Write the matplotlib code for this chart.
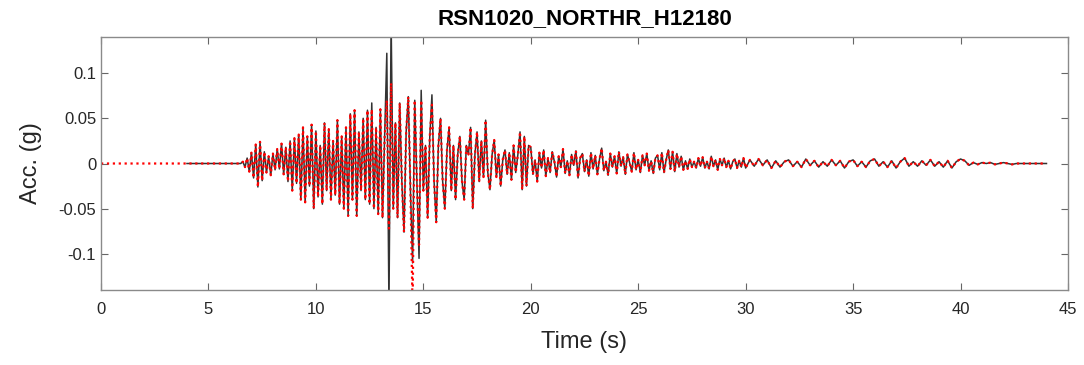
import numpy as np
import matplotlib
matplotlib.use('Agg')
import matplotlib.pyplot as plt

# 记录名称
record_name = "RSN1020_NORTHR_H12180"

# 强震段 (6.5 s 起, 步长 0.1 s), 单位 g
acc_strong = [
    0.0, 0.002, -0.004, 0.006, -0.009, 0.012, -0.016, 0.021, -0.026, 0.024,
    -0.019, 0.013, -0.010, 0.008, -0.013, 0.011, -0.007, 0.016, -0.006, 0.022,
    -0.012, 0.018, -0.020, 0.025, -0.030, 0.028, -0.022, 0.032, -0.040, 0.040,
    -0.043, 0.030, -0.025, 0.043, -0.050, 0.036, -0.037, 0.020, -0.045, 0.045,
    -0.030, 0.038, -0.040, 0.025, -0.035, 0.048, -0.045, 0.030, -0.050, 0.040,
    -0.058, 0.055, -0.040, 0.059, -0.058, 0.035, -0.030, 0.050, -0.040, 0.059,
    -0.045, 0.067, -0.050, 0.040, -0.056, 0.060, -0.060, 0.030, 0.122, -0.160,
    0.160, -0.050, 0.045, -0.060, 0.067, -0.020, -0.076, 0.035, 0.074, -0.030,
    -0.110, 0.070, -0.020, -0.105, 0.081, -0.030, 0.020, -0.060, 0.030, 0.076,
    -0.020, -0.065, 0.020, 0.050, -0.020, -0.050, 0.015, 0.040, -0.030, 0.020,
    -0.040, 0.010, 0.030, -0.020, -0.040, 0.020, 0.010, 0.040, -0.050, 0.010,
    0.035, -0.020, 0.025, -0.015, 0.048, -0.010, -0.029, 0.010, 0.026, -0.015,
    0.010, -0.025, 0.005, 0.015, -0.012, 0.012, -0.018, 0.020, -0.010, 0.010,
    0.035, -0.029, 0.030, -0.025, 0.020,
]

# 中段 (20 s 起, 步长 0.1 s)
acc_mid = [
    0.018, -0.012, 0.004, -0.020, 0.012, -0.005, 0.015, -0.014, 0.006, -0.010,
    0.013, 0.002, -0.015, 0.008, -0.004, 0.016, -0.011, 0.003, -0.013, 0.010,
    -0.002, 0.014, -0.016, 0.006, 0.011, -0.009, 0.004, -0.014, 0.012, -0.006,
    0.009, -0.012, 0.005, 0.017, -0.008, 0.002, -0.013, 0.011, -0.004, 0.008,
    -0.011, 0.013, -0.003, 0.007, -0.012, 0.010, 0.001, -0.009, 0.012, -0.007,
    0.004, -0.010, 0.009, -0.002, 0.011, -0.008, 0.003, -0.011, 0.006, 0.009,
    -0.007, 0.012, -0.010, 0.004, 0.015, -0.006, 0.013, -0.009, 0.011, -0.004,
    0.008, -0.007, 0.003, -0.006, 0.005, -0.004, 0.002, -0.005, 0.006, -0.003,
    0.007, -0.005, 0.002, -0.006, 0.008, -0.003, 0.004, -0.007, 0.005, -0.002,
    0.006, -0.004, 0.003, -0.006, 0.002, 0.005, -0.005, 0.003, -0.004, 0.006,
]

# 尾段 (30 s 起, 步长 0.2 s)
acc_tail = [
    -0.005, 0.004, -0.003, 0.005, -0.002, 0.004, -0.005, 0.003, -0.004, 0.002,
    0.004, -0.003, 0.002, -0.004, 0.005, -0.002, 0.003, -0.004, 0.002, -0.003,
    0.004, -0.002, 0.003, -0.005, 0.002, 0.004, -0.003, 0.002, -0.004, 0.003,
    0.005, -0.003, 0.002, -0.004, 0.003, -0.005, 0.002, 0.006, -0.003, 0.002,
    -0.003, 0.003, -0.002, 0.004, -0.003, 0.002, -0.004, 0.003, -0.005, 0.002,
    0.005, 0.003, -0.002, 0.001, -0.001, 0.001, 0.0, 0.001, -0.001, 0.0,
    0.001, 0.0, -0.001, 0.0, 0.0, 0.0, 0.0, 0.0, 0.0, 0.0, 0.0,
]

# 红线 (匹配结果) 与黑线不同的时刻
red_override = {12.6: 0.060, 13.3: 0.070, 13.4: -0.072, 13.5: 0.089,
                14.5: -0.160, 14.8: -0.090, 14.9: 0.070, 15.4: 0.065}

t_strong = 6.5 + 0.1 * np.arange(len(acc_strong))
t_mid = 20.0 + 0.1 * np.arange(len(acc_mid))
t_tail = 30.0 + 0.2 * np.arange(len(acc_tail))

t_black = np.concatenate([[4.0, 6.4], t_strong, t_mid, t_tail])
a_black = np.concatenate([[0.0, 0.0], acc_strong, acc_mid, acc_tail])

a_red_strong = np.array(acc_strong, dtype=float)
for tt, v in red_override.items():
    a_red_strong[int(round((tt - 6.5) / 0.1))] = v
t_red = np.concatenate([[0.0, 6.4], t_strong, t_mid, t_tail])
a_red = np.concatenate([[0.0, 0.0], a_red_strong, acc_mid, acc_tail])

plt.rcParams['font.family'] = ['Liberation Sans', 'DejaVu Sans']

fig = plt.figure(figsize=(10.84, 3.65), dpi=100)
ax = fig.add_axes([0.0932, 0.2055, 0.892, 0.6931])

ax.plot(t_black, a_black, color='#333333', lw=1.1)
ax.plot(t_red, a_red, color='red', lw=1.6, ls=':')

ax.set_xlim(0, 45)
ax.set_ylim(-0.14, 0.14)
ax.set_xticks(np.arange(0, 46, 5))
ax.set_yticks([-0.1, -0.05, 0, 0.05, 0.1])
ax.set_yticklabels(['-0.1', '-0.05', '0', '0.05', '0.1'])

ax.tick_params(direction='in', top=True, right=True, length=5,
               color='#666666', labelcolor='#262626', labelsize=12)
ax.tick_params(axis='x', pad=9)
for sp in ax.spines.values():
    sp.set_color('#8a8a8a')
    sp.set_linewidth(1.0)

ax.set_xlabel('Time (s)', fontsize=17, color='#262626', labelpad=10)
ax.set_ylabel('Acc. (g)', fontsize=17, color='#262626', labelpad=12)
ax.set_title(record_name, fontsize=16, fontweight='bold', pad=9)

fig.savefig('out.png', dpi=100)
plt.close()
